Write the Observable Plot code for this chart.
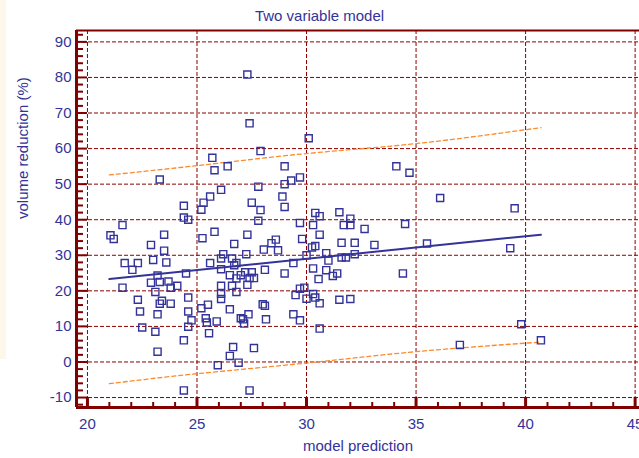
<!DOCTYPE html>
<html>
<head>
<meta charset="utf-8">
<script src="https://cdn.jsdelivr.net/npm/d3@7"></script>
<script src="https://cdn.jsdelivr.net/npm/@observablehq/plot@0.6"></script>
<style>
  html, body { margin: 0; padding: 0; background: #ffffff; }
  #wrap { position: relative; width: 639px; height: 458px; overflow: hidden; font-family: "Liberation Sans", Arial, sans-serif; }
  #strip { position: absolute; left: 0; top: 0; width: 6px; height: 359px; background: #fdf7ea; }
  #title { position: absolute; left: 0; top: 6px; width: 639px; text-align: center; font-size: 15px; color: #333399; line-height: 20px; }
  #chart { position: absolute; left: 0; top: 0; }
</style>
</head>
<body>
<div id="wrap">
  <div id="strip"></div>
  <div id="chart"></div>
  <div id="title">Two variable model</div>
</div>
<script>
const titleText = "Two variable model";
const xLabel = "model prediction";
const yLabel = "volume reduction (%)";

const xTicks = [20, 25, 30, 35, 40, 45];
const yTicks = [-10, 0, 10, 20, 30, 40, 50, 60, 70, 80, 90];
const xDomain = [19.5, 45.2];
const yDomain = [-12.8, 93.2];

const predX = [
  27.3, 27.4, 30.1, 25.7, 27.9, 25.8, 26.4, 29.0, 23.3, 26.1,
  27.8, 29.0, 29.3, 29.7, 28.9, 29.0, 25.6, 25.3, 25.2, 27.5,
  27.9, 27.8, 24.4, 24.4, 24.6, 21.6, 29.7, 30.4, 30.3, 30.6,
  25.8, 34.1, 34.7, 36.1, 39.5, 31.5, 32.0, 31.7, 32.0, 32.65,
  34.5, 31.6, 32.2, 33.1, 35.5, 39.3, 30.9, 31.6, 31.8, 32.2,
  31.0, 30.9, 31.2, 31.4, 34.4, 30.6, 31.5, 32.0, 30.6, 39.8,
  37.0, 40.7, 21.05, 21.2, 23.5, 22.9, 23.5, 25.25, 27.3, 26.7,
  28.4, 28.6, 28.05, 28.7, 29.8, 30.25, 30.4, 30.0, 27.25, 26.2,
  26.1, 26.6, 25.6, 26.7, 26.8, 26.1, 21.7, 22.3, 22.05, 23.0,
  23.6, 23.2, 22.9, 23.3, 23.7, 24.1, 23.8, 24.5, 26.5, 26.8,
  27.2, 27.5, 27.4, 27.6, 28.1, 29.0, 29.4, 30.3, 30.55, 27.0,
  26.1, 26.6, 27.3, 26.1, 26.1, 26.8, 23.1, 21.6, 22.3, 22.4,
  23.3, 23.4, 23.8, 24.6, 24.6, 23.2, 22.5, 23.1, 24.75, 24.6,
  25.2, 25.5, 25.4, 25.45, 25.9, 25.55, 26.5, 27.35, 27.0, 27.1,
  27.15, 28.0, 28.1, 28.15, 29.4, 29.7, 29.5, 29.7, 29.9, 30.0,
  30.3, 30.4, 23.2, 24.4, 24.4, 26.65, 26.5, 26.9, 25.95, 27.6,
  27.4, 30.6
];
const volRed = [
  80.8, 67.1, 62.9, 57.4, 59.3, 53.9, 55.0, 55.0, 51.3, 48.4,
  49.3, 50.0, 51.0, 51.9, 46.5, 43.6, 46.5, 44.8, 42.8, 44.8,
  42.7, 39.7, 43.9, 40.6, 40.0, 38.5, 39.1, 41.9, 38.5, 41.0,
  36.6, 55.0, 53.2, 46.1, 43.2, 42.1, 40.3, 38.5, 38.5, 37.4,
  38.8, 33.5, 33.5, 32.9, 33.3, 32.0, 30.6, 29.4, 29.4, 30.3,
  28.5, 25.8, 24.2, 24.9, 24.9, 16.5, 17.5, 17.7, 9.4, 10.6,
  4.8, 6.1, 35.6, 34.6, 35.8, 32.9, 31.3, 34.8, 35.8, 33.2,
  33.4, 34.4, 31.6, 31.4, 34.6, 32.2, 32.6, 30.0, 30.3, 30.3,
  29.1, 29.1, 27.8, 27.2, 27.8, 26.1, 27.8, 27.8, 25.9, 28.7,
  28.0, 24.3, 22.3, 22.5, 22.6, 21.4, 20.9, 24.9, 24.4, 23.5,
  25.2, 25.2, 23.6, 23.6, 25.9, 24.9, 27.8, 26.3, 23.3, 24.4,
  21.4, 21.4, 21.7, 19.2, 17.7, 19.7, 19.7, 20.9, 17.5, 14.2,
  16.4, 17.2, 16.4, 18.1, 14.2, 13.4, 9.7, 8.5, 11.7, 9.9,
  15.1, 16.1, 12.3, 11.1, 11.4, 8.1, 14.8, 13.4, 12.3, 12.0,
  10.8, 16.2, 15.8, 12.0, 13.4, 11.7, 18.8, 20.6, 20.9, 17.8,
  19.1, 18.1, 2.9, 6.1, -8.0, 4.2, 1.7, -0.2, -0.9, 3.9,
  -8.0, 35.8
];

const regX = [21.0, 40.7];
const regY = [23.3, 35.8];
const bandX = [21.0, 25.0, 30.0, 35.0, 40.7];
const upperY = [52.6, 55.2, 58.6, 61.4, 65.9];
const lowerY = [-6.1, -3.3, -0.3, 2.9, 5.6];

const points = predX.map((x, i) => ({x, y: volRed[i]}));
const reg = regX.map((x, i) => ({x, y: regY[i]}));
const upper = bandX.map((x, i) => ({x, y: upperY[i]}));
const lower = bandX.map((x, i) => ({x, y: lowerY[i]}));

const xMinor = d3.range(20, 45.01, 1).filter(v => !xTicks.includes(v));
const yMinor = d3.range(-12, 92.01, 2).filter(v => !yTicks.includes(v));

const navy = "#333399";
const axisRed = "#800000";
const gridRed = "#8b0000";
const orange = "#ff8a2a";

const W = 639, H = 458, mL = 76, mR = 0, mT = 30, mB = 51;
const plotW = W - mL - mR, plotH = H - mT - mB;

const chart = Plot.plot({
  width: W, height: H,
  marginLeft: mL, marginRight: mR, marginTop: mT, marginBottom: mB,
  x: {domain: xDomain},
  y: {domain: yDomain},
  style: {fontFamily: "Liberation Sans, Arial, sans-serif", background: "transparent", overflow: "visible"},
  marks: [
    Plot.gridY(yTicks, {stroke: gridRed, strokeOpacity: 1, strokeWidth: 1, strokeDasharray: "4,2"}),
    Plot.gridX(xTicks, {stroke: gridRed, strokeOpacity: 1, strokeWidth: 1, strokeDasharray: "4,2"}),
    Plot.line(upper, {x: "x", y: "y", stroke: orange, strokeWidth: 1.3, strokeDasharray: "4,3", curve: "natural"}),
    Plot.line(lower, {x: "x", y: "y", stroke: orange, strokeWidth: 1.3, strokeDasharray: "4,3", curve: "natural"}),
    Plot.line(reg, {x: "x", y: "y", stroke: navy, strokeWidth: 2}),
    Plot.dot(points, {x: "x", y: "y", symbol: "square", r: 4, stroke: navy, strokeWidth: 1.4, fill: "none"}),
    Plot.tickY(yMinor, {y: d => d, stroke: axisRed, strokeWidth: 2, insetRight: plotW - 7}),
    Plot.tickY(yTicks, {y: d => d, stroke: axisRed, strokeWidth: 2, insetRight: plotW - 11}),
    Plot.tickX(xMinor, {x: d => d, stroke: axisRed, strokeWidth: 2, insetTop: plotH - 5}),
    Plot.tickX(xTicks, {x: d => d, stroke: axisRed, strokeWidth: 3, insetTop: plotH - 10}),
    Plot.ruleX([xDomain[0]], {stroke: axisRed, strokeWidth: 3}),
    Plot.ruleY([yDomain[0]], {stroke: axisRed, strokeWidth: 3}),
    Plot.ruleY([yDomain[1]], {stroke: axisRed, strokeWidth: 2}),
    Plot.axisY(yTicks, {tickSize: 0, tickPadding: 5, fontSize: 15, color: navy, label: null, tickFormat: d => String(d)}),
    Plot.axisX(xTicks, {tickSize: 0, tickPadding: 11, fontSize: 15, color: navy, label: null, tickFormat: d => String(d)}),
    Plot.text([yLabel], {text: d => d, frameAnchor: "left", dx: -53, rotate: -90, fontSize: 15, fill: navy}),
    Plot.text([xLabel], {text: d => d, frameAnchor: "bottom", dy: 43, fontSize: 15, fill: navy})
  ]
});
document.getElementById("chart").appendChild(chart);
document.getElementById("title").textContent = titleText;
</script>
</body>
</html>
